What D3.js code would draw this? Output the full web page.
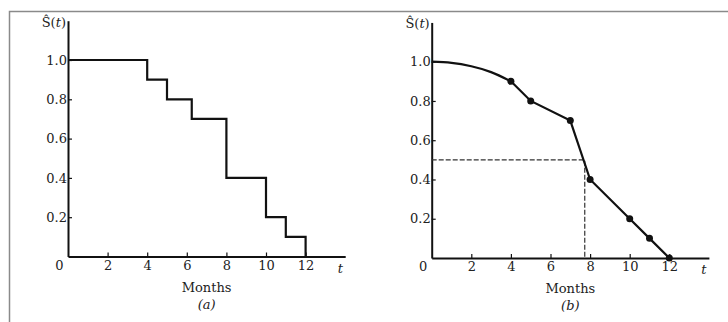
<!DOCTYPE html>
<html><head><meta charset="utf-8">
<script src="https://cdn.jsdelivr.net/npm/d3@7"></script>
<style>
body{margin:0;background:#fff;}
svg{display:block;font-family:"DejaVu Serif","Liberation Serif",serif;}
</style></head>
<body><svg id="c" width="728" height="322"></svg>
<script>
// Panel (a): Kaplan-Meier step function
const stepTimes = [0, 4, 5, 6.25, 8, 10, 11, 12];
const stepValues = [1.0, 0.9, 0.8, 0.7, 0.4, 0.2, 0.1, 0.0];
// Panel (b): smoothed survival curve
const curveTimes = [0, 1, 2, 3, 4];
const curveValues = [1.0, 0.994, 0.977, 0.947, 0.9];
const pointTimes = [4, 5, 7, 8, 10, 11, 12];
const pointValues = [0.9, 0.8, 0.7, 0.4, 0.2, 0.1, 0.0];
const medianTime = 7.73;
const medianValue = 0.5;
const xTicks = [0, 2, 4, 6, 8, 10, 12];
const yTicks = [0.2, 0.4, 0.6, 0.8, 1.0];
const panelLabels = ["(a)", "(b)"];

const FONT = "DejaVu Serif";
const FS = 13;
const svg = d3.select("#c");
// outer frame
svg.append("path").attr("d","M9.5,322 V11.5 H728").attr("fill","none").attr("stroke","#8a8a8a").attr("stroke-width",1.5);

function panel(ox, oy, ppx, ppy, label, drawFn) {
  const x = d3.scaleLinear().domain([0, 14]).range([ox, ox + 14 * ppx]);
  const y = d3.scaleLinear().domain([0, 1.2]).range([oy, oy - 1.2 * ppy]);
  const g = svg.append("g");
  const xa = g.append("g").attr("transform", `translate(0,${oy})`)
    .call(d3.axisBottom(x).tickValues(xTicks).tickSizeInner(-4).tickSizeOuter(0).tickPadding(4).tickFormat(d3.format("d")));
  xa.select(".domain").attr("stroke", "#111").attr("stroke-width", 2);
  xa.selectAll(".tick line").attr("stroke", "#111").attr("stroke-width", 1.2);
  xa.selectAll(".tick text").attr("font-size", FS).attr("fill", "#222").attr("font-family", FONT);
  xa.selectAll(".tick").filter(d => d === 0).select("line").remove();
  xa.selectAll(".tick").filter(d => d === 0).select("text").attr("dx", -9);
  const ya = g.append("g").attr("transform", `translate(${ox},0)`)
    .call(d3.axisLeft(y).tickValues(yTicks).tickSizeInner(-4).tickSizeOuter(0).tickPadding(1).tickFormat(d3.format(".1f")));
  ya.select(".domain").attr("stroke", "#111").attr("stroke-width", 2);
  ya.selectAll(".tick line").attr("stroke", "#111").attr("stroke-width", 1.2);
  ya.selectAll(".tick text").attr("font-size", FS).attr("fill", "#222").attr("font-family", FONT);
  const sl = g.append("text").attr("x", ox - 2).attr("y", y(1.17)).attr("text-anchor", "end").attr("font-size", FS).attr("fill", "#222");
  sl.append("tspan").text("Ŝ(");
  sl.append("tspan").attr("font-style", "italic").text("t");
  sl.append("tspan").text(")");
  g.append("text").attr("x", x(13.75)).attr("y", oy + 16).attr("text-anchor", "middle").attr("font-size", FS).attr("font-style", "italic").attr("fill", "#222").text("t");
  g.append("text").attr("x", x(7)).attr("y", oy + 35).attr("text-anchor", "middle").attr("font-size", FS).attr("fill", "#222").text("Months");
  g.append("text").attr("x", x(7)).attr("y", oy + 52).attr("text-anchor", "middle").attr("font-size", FS).attr("font-style", "italic").attr("fill", "#222").text(label);
  drawFn(g, x, y);
}

panel(68, 256.5, 19.8, 196.5, panelLabels[0], (g, x, y) => {
  const pts = stepTimes.map((t, i) => [t, stepValues[i]]);
  const line = d3.line().x(d => x(d[0])).y(d => y(d[1])).curve(d3.curveStepAfter);
  g.append("path").datum(pts).attr("d", line).attr("fill", "none").attr("stroke", "#111").attr("stroke-width", 2.2);
});

panel(431.7, 258, 19.8, 196.3, panelLabels[1], (g, x, y) => {
  g.append("path").attr("d", `M${x(0)},${y(medianValue)} H${x(medianTime)} V${y(0)}`)
    .attr("fill", "none").attr("stroke", "#333").attr("stroke-width", 1.2).attr("stroke-dasharray", "5,2");
  const c = curveTimes.map((t, i) => [t, curveValues[i]]);
  g.append("path").datum(c).attr("d", d3.line().x(d => x(d[0])).y(d => y(d[1])).curve(d3.curveNatural))
    .attr("fill", "none").attr("stroke", "#111").attr("stroke-width", 2.2);
  const p = pointTimes.map((t, i) => [t, pointValues[i]]);
  g.append("path").datum(p).attr("d", d3.line().x(d => x(d[0])).y(d => y(d[1])))
    .attr("fill", "none").attr("stroke", "#111").attr("stroke-width", 2.2);
  g.selectAll("circle.pt").data(p).join("circle").attr("class", "pt")
    .attr("cx", d => x(d[0])).attr("cy", d => y(d[1])).attr("r", 3.5).attr("fill", "#111");
});
</script></body></html>
